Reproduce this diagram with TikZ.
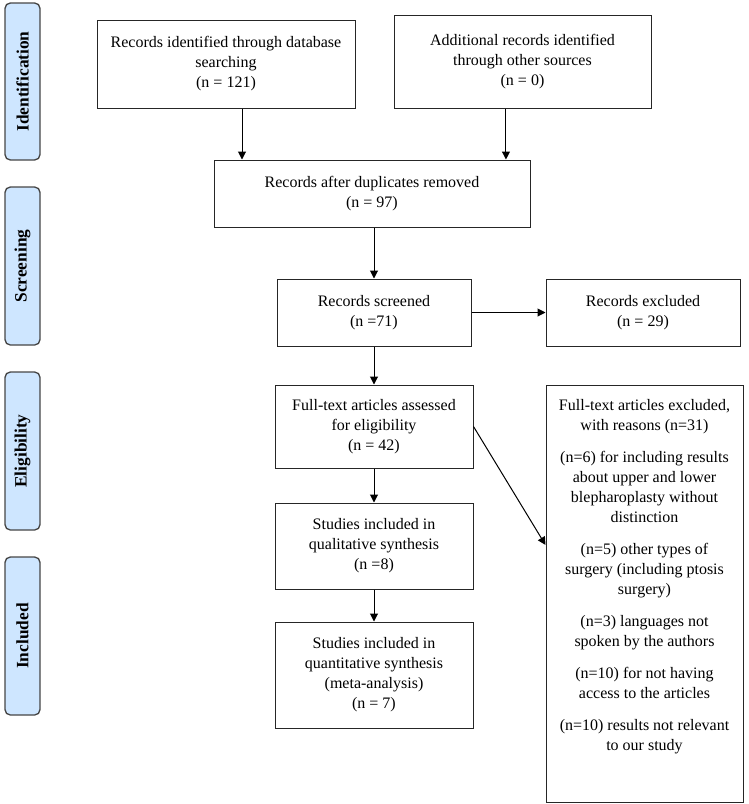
\documentclass[tikz,border=0pt]{standalone}
\usepackage{fontspec}
\setmainfont{Liberation Serif}
\usetikzlibrary{arrows.meta}
\definecolor{phasefill}{RGB}{206,230,255}
\definecolor{phaseline}{RGB}{70,70,70}
\begin{document}
\begin{tikzpicture}[x=0.75pt,y=-0.75pt,
  box/.style={draw=black!85,line width=0.75pt,rectangle,align=center,inner sep=0pt,
    font=\fontsize{12}{15}\selectfont},
  phase/.style={draw=phaseline,line width=1pt,fill=phasefill,rounded corners=4pt,
    minimum height=26.25pt,inner sep=0pt,rotate=90,
    font=\fontsize{13}{15}\selectfont\bfseries},
  arr/.style={line width=0.75pt,-{Triangle[length=6pt,width=6pt]}}]
\useasboundingbox (0,0) rectangle (749,804);

% phase labels
\node[phase,minimum width=117.75pt] (p1) at (22.5,81.5) {Identification};
\node[phase,minimum width=118.5pt] (p2) at (22.5,266) {Screening};
\node[phase,minimum width=118.5pt] (p3) at (22.5,451) {Eligibility};
\node[phase,minimum width=118.5pt] (p4) at (22.5,636) {Included};

% boxes
\node[box,minimum width=193.5pt,minimum height=66pt] (b1) at (226,64)
  {Records identified through database\\searching\\(n = 121)};
\node[box,minimum width=192.75pt,minimum height=69.75pt] (b2) at (522.5,61.5)
  {Additional records identified\\through other sources\\(n = 0)};
\node[box,minimum width=237pt,minimum height=50.25pt] (b3) at (372,193.5)
  {Records after duplicates removed\\(n = 97)};
\node[box,minimum width=145.5pt,minimum height=50.25pt] (b4) at (374,312.5)
  {Records screened\\(n =71)};
\node[box,minimum width=145.5pt,minimum height=50.25pt] (b5) at (643,312.5)
  {Records excluded\\(n = 29)};
\node[box,minimum width=148.5pt,minimum height=62.25pt] (b6) at (374,426.5)
  {Full-text articles assessed\\for eligibility\\(n = 42)};
\node[box] (b7) at (644.5,593.5)
  {\begin{minipage}[c][312.75pt][t]{147.75pt}\centering
   \vspace*{11pt}%
   Full-text articles excluded,\\with reasons (n=31)\par\vspace{9pt}
   (n=6) for including results\\about upper and lower\\blepharoplasty without\\distinction\par\vspace{9pt}
   (n=5) other types of\\surgery (including ptosis\\surgery)\par\vspace{9pt}
   (n=3) languages not\\spoken by the authors\par\vspace{9pt}
   (n=10) for not having\\access to the articles\par\vspace{9pt}
   (n=10) results not relevant\\to our study\par
   \end{minipage}};
\node[box,minimum width=148.5pt,minimum height=64.5pt] (b8) at (374,546)
  {Studies included in\\qualitative synthesis\\(n =8)};
\node[box,minimum width=148.5pt,minimum height=79.5pt] (b9) at (374,675)
  {Studies included in\\quantitative synthesis\\(meta-analysis)\\(n = 7)};

% connectors
\coordinate (a1) at ([xshift=12pt]b1.south);
\coordinate (a2) at ([xshift=-12.4pt]b2.south);
\draw[arr] (a1) -- (a1 |- b3.north);
\draw[arr] (a2) -- (a2 |- b3.north);
\draw[arr] (b3.south -| b4.north) -- (b4.north);
\draw[arr] (b4.east) -- (b5.west);
\draw[arr] (b4.south) -- (b6.north);
\draw[arr] (b6.east) -- ([yshift=36.4pt]b7.west);
\draw[arr] (b6.south) -- (b8.north);
\draw[arr] (b8.south) -- (b9.north);
\end{tikzpicture}
\end{document}
